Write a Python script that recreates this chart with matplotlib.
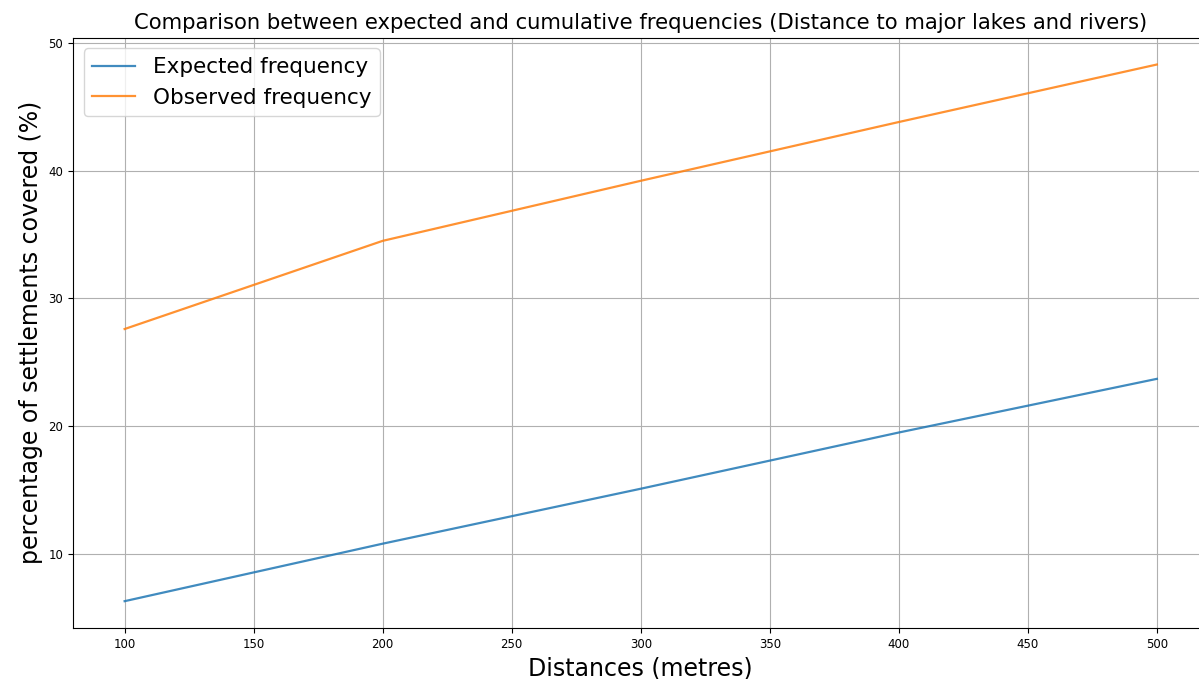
import matplotlib
matplotlib.use("Agg")
import matplotlib.pyplot as plt

# Values
distances = [100, 200, 300, 400, 500]
expected_freq = [6.3, 10.8, 15.1, 19.5, 23.7]
observed_freq = [27.6, 34.5, 39.2, 43.8, 48.3]

fig = plt.figure(figsize=(11.99, 6.79), dpi=100)
ax = fig.add_axes([0.0609, 0.0751, 0.947, 0.8694])

ax.plot(distances, expected_freq, label="Expected frequency", linewidth=1.6, alpha=0.85)
ax.plot(distances, observed_freq, label="Observed frequency", linewidth=1.6, alpha=0.85)

ax.set_title("Comparison between expected and cumulative frequencies (Distance to major lakes and rivers)",
             fontsize=15.2)
ax.set_xlabel("Distances (metres)", fontsize=17)
ax.set_ylabel("percentage of settlements covered (%)", fontsize=17)
ax.tick_params(labelsize=8.5)
ax.grid(True)
ax.legend(loc="upper left", fontsize=15.5)

fig.savefig("out.png", dpi=100)
